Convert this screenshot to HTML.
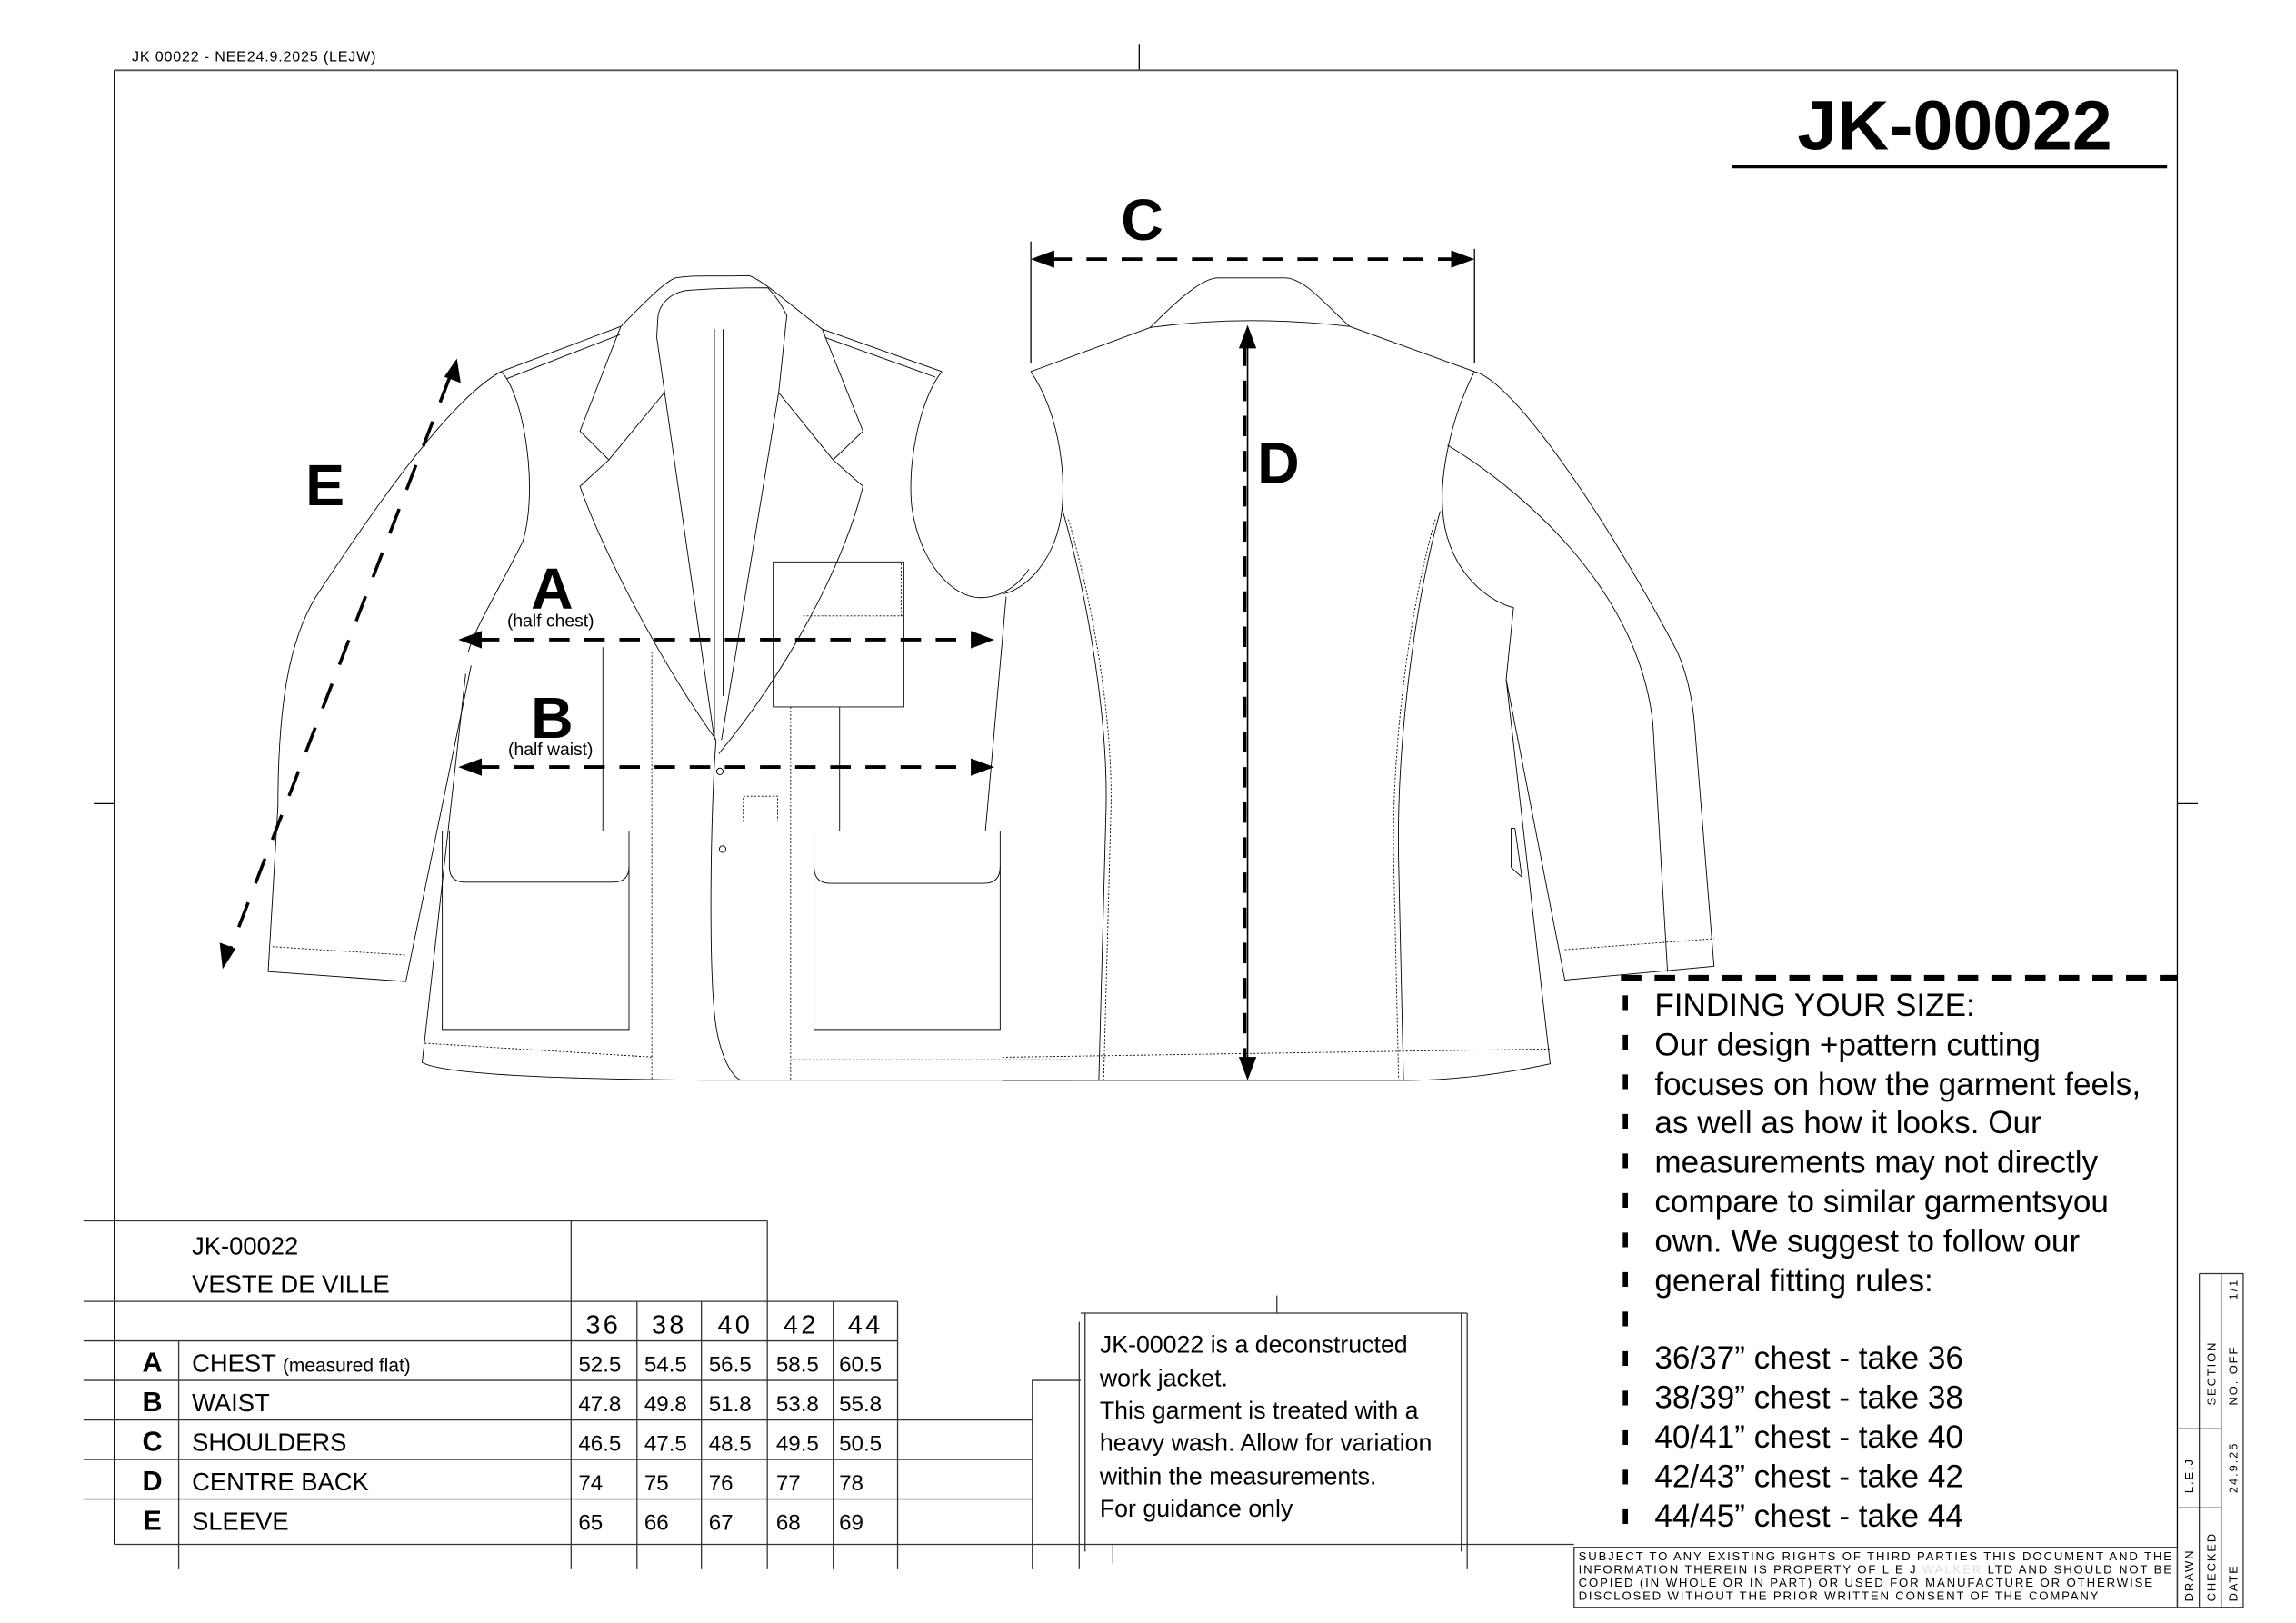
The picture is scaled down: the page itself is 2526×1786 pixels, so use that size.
<!DOCTYPE html>
<html><head><meta charset="utf-8"><style>
html,body{margin:0;padding:0;background:#fff;}
svg{display:block}
.s path,.s line,.s rect,.s circle{vector-effect:non-scaling-stroke}
text{font-family:"Liberation Sans","DejaVu Sans",sans-serif;fill:#000}
.b{font-weight:bold}
</style></head><body>
<svg width="2526" height="1786" viewBox="0 0 1568 1108.7" xmlns="http://www.w3.org/2000/svg">
<rect width="1568" height="1109" fill="#fff"/>
<!-- header -->
<text x="90" y="42" font-size="10" letter-spacing="0.5">JK 00022 - NEE24.9.2025 (LEJW)</text>
<g stroke="#000" stroke-width="0.8" fill="none">
<line x1="778" y1="30" x2="778" y2="48"/>
<line x1="78" y1="48" x2="1487" y2="48" stroke="#555" stroke-width="1.2"/>
<line x1="78" y1="48" x2="78" y2="1055"/>
<line x1="1487" y1="48" x2="1487" y2="1098"/>
<line x1="64" y1="549" x2="78" y2="549"/>
<line x1="1487" y1="549" x2="1501" y2="549"/>
</g>
<text x="1335" y="102" class="b" font-size="48" text-anchor="middle" textLength="215" lengthAdjust="spacingAndGlyphs">JK-00022</text>
<line x1="1183" y1="114" x2="1480" y2="114" stroke="#000" stroke-width="2"/>

<!-- front jacket -->
<g class="s" transform="translate(148.9,174) scale(0.3717,0.3767)" fill="none" stroke="#000" stroke-width="0.9">
<path d="M520,212 C430,260 300,440 180,620 C130,700 110,820 110,1000 L92,1300 L345,1318 L465,745"/>
<path d="M520,212 C560,250 590,420 560,520 C520,600 470,680 460,720"/>
<path d="M455,760 L375,1465 C420,1490 700,1497 960,1497 L1568,1497"/>
<path d="M520,212 L740,130 M530,225 L738,145 M1110,135 L1330,212 M1115,150 L1318,222"/>
<path d="M740,130 C790,80 820,50 840,42 C880,36 920,40 975,38 C1000,45 1050,90 1110,135"/>
<path d="M808,115 C810,90 830,70 860,65 C920,60 990,60 1010,60 C1030,80 1040,100 1045,110"/>
<path d="M740,130 L665,320 L718,372 L665,420 C700,520 800,720 915,880"/>
<path d="M808,115 L806,150 L912,880 M820,250 L718,372"/>
<path d="M1110,135 L1185,320 L1130,372 L1185,420 C1150,560 1050,750 920,905"/>
<path d="M1045,110 L1030,250 L1130,372 M1030,250 L925,880"/>
<path d="M912,135 L912,880 M928,135 L928,800"/>
<path d="M915,880 C905,1000 900,1300 915,1400 C925,1460 945,1490 960,1497"/>
<path d="M1330,212 C1290,260 1265,380 1275,460 C1290,560 1350,622 1400,622 C1440,622 1470,600 1490,570"/>
<path d="M1448,620 L1410,1045"/>
<rect x="1020" y="557" width="240" height="263"/>
<path d="M1075,655 L1258,655 M1255,560 L1255,655" stroke-dasharray="2 2"/>
<path d="M412,1045 L755,1045 L755,1405 L412,1405 Z"/>
<path d="M425,1045 L425,1110 Q425,1138 455,1138 L725,1138 Q755,1138 755,1110"/>
<path d="M1095,1045 L1437,1045 L1437,1405 L1095,1405 Z"/>
<path d="M1095,1045 L1095,1110 Q1095,1140 1125,1140 L1407,1140 Q1437,1140 1437,1110"/>
<path d="M707,712 L707,1045 M1142,820 L1142,1045"/>
<path d="M797,720 L797,1497 M1052,820 L1052,1497 M1052,1460 L1568,1460 M380,1430 L797,1455 M100,1255 L345,1270 M965,1028 L965,982 L1028,982 L1028,1028" stroke-dasharray="2 2"/>
<circle cx="922" cy="937" r="6"/><circle cx="927" cy="1078" r="6"/>
</g>

<!-- back jacket -->
<g class="s" transform="translate(684.6,174) scale(0.334,0.3768)" fill="none" stroke="#000" stroke-width="0.9">
<path d="M302,132 C360,80 410,42 440,42 L580,42 C620,45 660,90 710,130"/>
<path d="M302,132 Q500,108 710,130"/>
<path d="M58,212 L302,132 M710,130 L965,212"/>
<path d="M58,212 C110,280 130,380 122,460 C110,560 40,610 0,615"/>
<path d="M122,460 C180,640 215,850 212,1000 L197,1497"/>
<path d="M965,212 C915,300 895,400 900,460 C905,560 980,625 1045,640 L1030,770 L1120,1467 C1000,1490 900,1497 820,1497 L0,1497"/>
<path d="M895,465 C840,640 805,900 810,1100 L820,1497"/>
<path d="M965,212 C1050,230 1250,500 1380,720 C1405,770 1412,820 1415,850 L1455,1290 L1150,1315 L1030,770"/>
<path d="M910,345 C1050,420 1300,600 1330,850 L1360,1300"/>
<path d="M1150,1260 L1455,1240 M0,1455 L1120,1440 M135,480 C190,650 225,850 222,1000 L207,1495 M885,480 C830,650 795,900 800,1100 L810,1495" stroke-dasharray="2 2"/>
<path d="M1040,1040 L1048,1040 L1062,1128 Q1048,1118 1040,1110 Z"/>
</g>

<!-- measurement arrows -->
<g stroke="#000" fill="none">
<line x1="704" y1="165" x2="704" y2="248" stroke-width="0.8"/>
<line x1="1007" y1="170" x2="1007" y2="248" stroke-width="0.8"/>
<line x1="718" y1="177" x2="993" y2="177" stroke-width="2.4" stroke-dasharray="14 10"/>
<line x1="327" y1="437" x2="665" y2="437" stroke-width="2.4" stroke-dasharray="14 10"/>
<line x1="327" y1="524" x2="665" y2="524" stroke-width="2.4" stroke-dasharray="14 10"/>
<line x1="852" y1="236" x2="852" y2="724" stroke-width="1"/>
<line x1="850" y1="236" x2="850" y2="724" stroke-width="2.4" stroke-dasharray="14 10"/>
<line x1="307" y1="258" x2="157" y2="649" stroke-width="2.2" stroke-dasharray="18 14"/>
</g>
<g fill="#000">
<polygon points="704,177 720,171 720,183"/>
<polygon points="1007,177 991,171 991,183"/>
<polygon points="313,437 329,431 329,443"/>
<polygon points="679,437 663,431 663,443"/>
<polygon points="313,524 329,518 329,530"/>
<polygon points="679,524 663,518 663,530"/>
<polygon points="852,222 846,238 858,238"/>
<polygon points="852,738 846,722 858,722"/>
<polygon points="312,245 314.6,261.6 303.4,257.4"/>
<polygon points="152,662 161,648 150,644"/>
</g>
<text x="780" y="164" class="b" font-size="40" text-anchor="middle">C</text>
<text x="873" y="330" class="b" font-size="40" text-anchor="middle">D</text>
<text x="222" y="345" class="b" font-size="40" text-anchor="middle">E</text>
<text x="377" y="416" class="b" font-size="40" text-anchor="middle">A</text>
<text x="376" y="428" font-size="12" text-anchor="middle">(half chest)</text>
<text x="377" y="504" class="b" font-size="40" text-anchor="middle">B</text>
<text x="376" y="516" font-size="12" text-anchor="middle">(half waist)</text>

<!-- size table -->
<g stroke="#333" stroke-width="0.8" fill="none">
<line x1="57" y1="834" x2="524" y2="834"/>
<line x1="57" y1="889" x2="613" y2="889"/>
<line x1="57" y1="916" x2="613" y2="916"/>
<line x1="57" y1="943" x2="613" y2="943"/>
<line x1="57" y1="970" x2="705" y2="970"/>
<line x1="57" y1="997" x2="705" y2="997"/>
<line x1="57" y1="1024" x2="705" y2="1024"/>
<line x1="78" y1="1055" x2="1075" y2="1055"/>
<line x1="122" y1="916" x2="122" y2="1072"/>
<line x1="390" y1="834" x2="390" y2="1072"/>
<line x1="435" y1="889" x2="435" y2="1072"/>
<line x1="479" y1="889" x2="479" y2="1072"/>
<line x1="524" y1="834" x2="524" y2="1072"/>
<line x1="569" y1="889" x2="569" y2="1072"/>
<line x1="613" y1="889" x2="613" y2="1072"/>
<path d="M705,1072 L705,943 L738,943"/>
<path d="M738,897 L1002,897 M741,897 L741,1060 M998,897 L998,1060 M1002,897 L1002,1072 M737,903 L737,1072 M872,885 L872,897 M760,1055 L760,1068"/>
<rect x="1075" y="1057" width="412" height="41"/>
<path d="M1502,870 L1532,870 L1532,1098 L1487,1098 M1502,870 L1502,1098 M1517,870 L1517,1098 M1487,976 L1517,976 M1487,1030 L1517,1030"/>
</g>
<g font-size="17">
<text x="131" y="857">JK-00022</text>
<text x="131" y="883">VESTE DE VILLE</text>
<text x="412" y="911" text-anchor="middle" font-size="18" letter-spacing="2">36</text>
<text x="457" y="911" text-anchor="middle" font-size="18" letter-spacing="2">38</text>
<text x="502" y="911" text-anchor="middle" font-size="18" letter-spacing="2">40</text>
<text x="547" y="911" text-anchor="middle" font-size="18" letter-spacing="2">42</text>
<text x="591" y="911" text-anchor="middle" font-size="18" letter-spacing="2">44</text>
<g class="b" font-size="19" text-anchor="middle">
<text x="104" y="937">A</text><text x="104" y="964">B</text><text x="104" y="991">C</text><text x="104" y="1018">D</text><text x="104" y="1045">E</text>
</g>
<text x="131" y="937">CHEST <tspan font-size="13">(measured flat)</tspan></text>
<text x="131" y="964">WAIST</text>
<text x="131" y="991">SHOULDERS</text>
<text x="131" y="1018">CENTRE BACK</text>
<text x="131" y="1045">SLEEVE</text>
<g font-size="15">
<text x="395" y="937">52.5</text><text x="440" y="937">54.5</text><text x="484" y="937">56.5</text><text x="530" y="937">58.5</text><text x="573" y="937">60.5</text>
<text x="395" y="964">47.8</text><text x="440" y="964">49.8</text><text x="484" y="964">51.8</text><text x="530" y="964">53.8</text><text x="573" y="964">55.8</text>
<text x="395" y="991">46.5</text><text x="440" y="991">47.5</text><text x="484" y="991">48.5</text><text x="530" y="991">49.5</text><text x="573" y="991">50.5</text>
<text x="395" y="1018">74</text><text x="440" y="1018">75</text><text x="484" y="1018">76</text><text x="530" y="1018">77</text><text x="573" y="1018">78</text>
<text x="395" y="1045">65</text><text x="440" y="1045">66</text><text x="484" y="1045">67</text><text x="530" y="1045">68</text><text x="573" y="1045">69</text>
</g>
</g>

<!-- note box -->
<g font-size="16.6">
<text x="751" y="924">JK-00022 is a deconstructed</text>
<text x="751" y="947">work jacket.</text>
<text x="751" y="969">This garment is treated with a</text>
<text x="751" y="991">heavy wash. Allow for variation</text>
<text x="751" y="1014">within the measurements.</text>
<text x="751" y="1036">For guidance only</text>
</g>

<!-- finding your size -->
<line x1="1107" y1="668" x2="1487" y2="668" stroke="#000" stroke-width="4" stroke-dasharray="14 9"/>
<line x1="1110" y1="680" x2="1110" y2="1055" stroke="#000" stroke-width="3.5" stroke-dasharray="10 17"/>
<g font-size="21.8">
<text x="1130" y="694">FINDING YOUR SIZE:</text>
<text x="1130" y="721">Our design +pattern cutting</text>
<text x="1130" y="748">focuses on how the garment feels,</text>
<text x="1130" y="774">as well as how it looks. Our</text>
<text x="1130" y="801">measurements may not directly</text>
<text x="1130" y="828">compare to similar garmentsyou</text>
<text x="1130" y="855">own. We suggest to follow our</text>
<text x="1130" y="882">general fitting rules:</text>
<text x="1130" y="935">36/37” chest - take 36</text>
<text x="1130" y="962">38/39” chest - take 38</text>
<text x="1130" y="989">40/41” chest - take 40</text>
<text x="1130" y="1016">42/43” chest - take 42</text>
<text x="1130" y="1043">44/45” chest - take 44</text>
</g>

<!-- legal -->
<g font-size="8.2" lengthAdjust="spacing">
<text x="1078" y="1066" textLength="405">SUBJECT TO ANY EXISTING RIGHTS OF THIRD PARTIES THIS DOCUMENT AND THE</text>
<text x="1078" y="1075" textLength="405">INFORMATION THEREIN IS PROPERTY OF L E J <tspan fill="#ddd">WALKER</tspan> LTD AND SHOULD NOT BE</text>
<text x="1078" y="1084" textLength="392">COPIED (IN WHOLE OR IN PART) OR USED FOR MANUFACTURE OR OTHERWISE</text>
<text x="1078" y="1093" textLength="355">DISCLOSED WITHOUT THE PRIOR WRITTEN CONSENT OF THE COMPANY</text>
</g>
<g font-size="8" letter-spacing="1.2">
<text transform="translate(1498,1094) rotate(-90)">DRAWN</text>
<text transform="translate(1513,1094) rotate(-90)">CHECKED</text>
<text transform="translate(1528,1094) rotate(-90)">DATE</text>
<text transform="translate(1498,1020) rotate(-90)">L.E.J</text>
<text transform="translate(1528,1020) rotate(-90)">24.9.25</text>
<text transform="translate(1513,960) rotate(-90)">SECTION</text>
<text transform="translate(1528,960) rotate(-90)">NO. OFF</text>
<text transform="translate(1528,888) rotate(-90)">1/1</text>
</g>
</svg>
</body></html>
